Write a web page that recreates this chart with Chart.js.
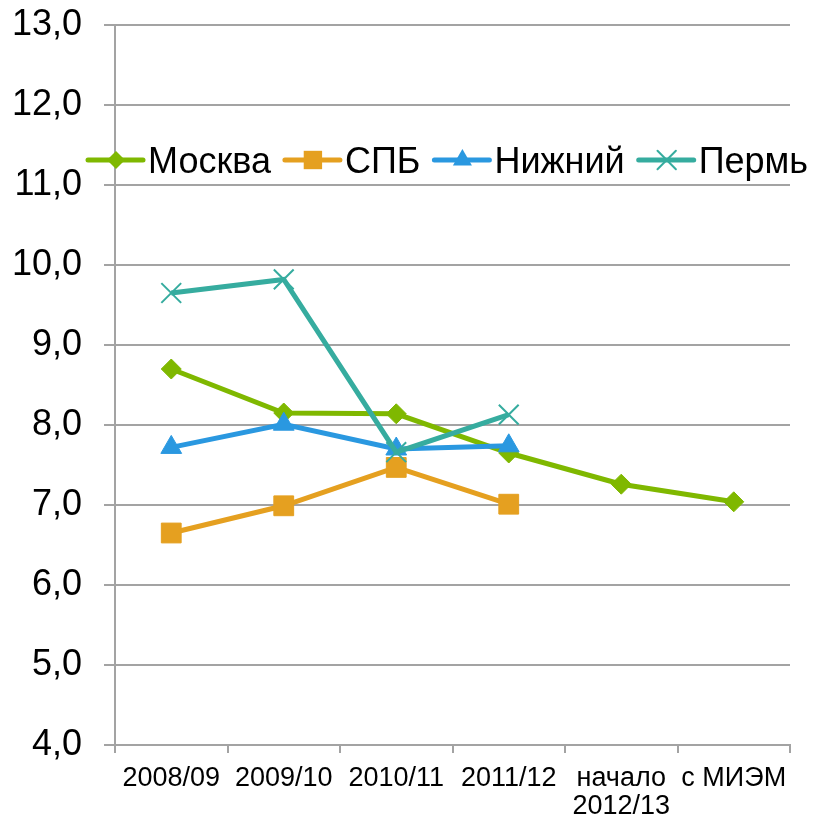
<!DOCTYPE html>
<html>
<head>
<meta charset="utf-8">
<title>Москва, СПБ, Нижний, Пермь</title>
<script src="https://cdn.jsdelivr.net/npm/chart.js@4/dist/chart.umd.min.js"></script>
<style>
  html, body { margin: 0; padding: 0; background: #ffffff; }
  #wrap { width: 819px; height: 821px; }
</style>
</head>
<body>
<div id="wrap"><canvas id="chart" width="819" height="821"></canvas></div>
<script>
// Categories (academic years) and series values
const categories = ['2008/09', '2009/10', '2010/11', '2011/12', ['начало', '2012/13'], 'с МИЭМ'];
const moskva = [8.70, 8.15, 8.14, 7.65, 7.26, 7.04];
const spb = [6.65, 6.99, 7.47, 7.01, null, null];
const nizhny = [7.72, 8.01, 7.70, 7.74, null, null];
const perm = [9.65, 9.82, 7.66, 8.13, null, null];
const seriesNames = ['Москва', 'СПБ', 'Нижний', 'Пермь'];
const yTicks = { min: 4, max: 13, step: 1 };

const FONT = '"Liberation Sans", Arial, sans-serif';
const GRID = '#a3a3a3';
const colors = ['#7fb800', '#e5a020', '#2a98e0', '#36ac9f'];
const shapes = ['rectRot', 'rect', 'triangle', 'crossRot'];
const radii = [10, 14, 12, 14];

// Own marker drawing, used by the legend
function marker(ctx, shape, x, y, r, color) {
  ctx.save();
  ctx.fillStyle = color;
  ctx.strokeStyle = color;
  ctx.beginPath();
  if (shape === 'rectRot') {
    ctx.moveTo(x, y - r); ctx.lineTo(x + r, y); ctx.lineTo(x, y + r); ctx.lineTo(x - r, y);
    ctx.closePath(); ctx.fill();
  } else if (shape === 'rect') {
    const s = r * Math.SQRT1_2;
    ctx.rect(x - s, y - s, 2 * s, 2 * s); ctx.fill();
  } else if (shape === 'triangle') {
    const h = r * 0.866;
    ctx.moveTo(x, y - r); ctx.lineTo(x + h, y + r / 2); ctx.lineTo(x - h, y + r / 2);
    ctx.closePath(); ctx.fill();
  } else {
    const d = r * Math.SQRT1_2;
    ctx.lineWidth = 2;
    ctx.moveTo(x - d, y - d); ctx.lineTo(x + d, y + d);
    ctx.moveTo(x + d, y - d); ctx.lineTo(x - d, y + d);
    ctx.stroke();
  }
  ctx.restore();
}

// Legend row drawn across the plot: line segment with marker, then name
const inlineLegend = {
  id: 'inlineLegend',
  afterDatasetsDraw(chart) {
    const ctx = chart.ctx;
    const y = 160;
    let x = 88;
    ctx.save();
    ctx.font = '36px ' + FONT;
    ctx.textBaseline = 'alphabetic';
    ctx.textAlign = 'left';
    seriesNames.forEach((name, i) => {
      ctx.beginPath();
      ctx.lineCap = 'round';
      ctx.lineWidth = 5;
      ctx.strokeStyle = colors[i];
      ctx.moveTo(x, y); ctx.lineTo(x + 55, y);
      ctx.stroke();
      marker(ctx, shapes[i], x + 28, y, i === 0 ? 9 : radii[i] - 1, colors[i]);
      ctx.fillStyle = '#000000';
      const tx = x + 60;
      ctx.fillText(name, tx, y + 13);
      x = tx + ctx.measureText(name).width + 14;
    });
    ctx.restore();
  }
};

const seriesData = [moskva, spb, nizhny, perm];
const datasets = seriesData.map((vals, i) => ({
  label: seriesNames[i],
  data: vals,
  borderColor: colors[i],
  backgroundColor: colors[i],
  borderWidth: 5,
  tension: 0,
  pointStyle: shapes[i],
  pointRadius: radii[i],
  pointBorderWidth: i === 3 ? 2 : 1,
  pointBorderColor: colors[i],
  pointBackgroundColor: colors[i],
  spanGaps: false,
  order: 4 - i
}));

new Chart(document.getElementById('chart'), {
  type: 'line',
  data: { labels: categories, datasets },
  options: {
    responsive: false,
    animation: false,
    devicePixelRatio: 1,
    layout: { padding: { top: 25, right: 29, bottom: 0, left: 0 } },
    plugins: { legend: { display: false }, tooltip: { enabled: false } },
    scales: {
      x: {
        offset: true,
        grid: { drawOnChartArea: false, drawTicks: true, tickLength: 8, offset: true, color: GRID, lineWidth: 2 },
        border: { display: true, color: GRID, width: 2 },
        ticks: { color: '#000000', padding: 11, maxRotation: 0, autoSkip: false,
                 font: { family: FONT, size: 27, lineHeight: 1.05 } },
        afterFit(scale) { scale.height = 76; scale.paddingLeft = 0; scale.paddingRight = 0; }
      },
      y: {
        min: yTicks.min,
        max: yTicks.max,
        grid: { color: GRID, lineWidth: 2, tickLength: 11 },
        border: { display: true, color: GRID, width: 2 },
        ticks: {
          stepSize: yTicks.step,
          color: '#000000',
          padding: 22,
          font: { family: FONT, size: 36 },
          callback: v => v.toFixed(1).replace('.', ',')
        },
        afterFit(scale) { scale.width = 115; scale.paddingTop = 0; scale.paddingBottom = 0; }
      }
    }
  },
  plugins: [inlineLegend]
});
</script>
</body>
</html>
